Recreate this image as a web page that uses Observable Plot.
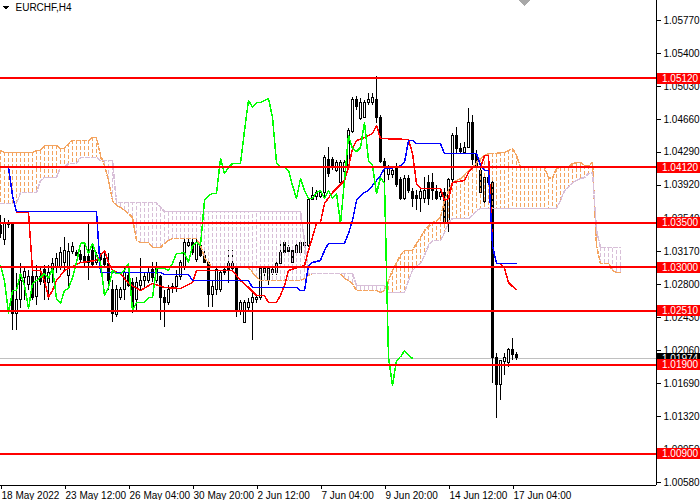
<!DOCTYPE html>
<html><head><meta charset="utf-8">
<script src="https://cdn.jsdelivr.net/npm/d3@7"></script>
<script src="https://cdn.jsdelivr.net/npm/@observablehq/plot@0.6"></script>
<style>
html,body{margin:0;padding:0;background:#fff;}
#chart{width:700px;height:500px;overflow:hidden;}
svg{display:block;}
</style></head><body><div id="chart"></div>
<script>
const symbolTitle = "EURCHF,H4";

const opens = [
1.03467,1.03299,1.03490,1.03490,1.02478,1.02625,1.02872,1.02804,1.02883,1.02669,
1.02883,1.02962,1.02816,1.02962,1.02995,1.02995,1.03051,1.02905,1.03164,1.03153,
1.03141,1.03108,1.03108,1.03186,1.03051,1.03130,1.03096,1.03040,1.02737,1.02456,
1.02658,1.02737,1.02905,1.02816,1.02625,1.02793,1.02849,1.02849,1.02962,1.02849,
1.02883,1.02647,1.02591,1.02771,1.02771,1.02883,1.02995,1.03242,1.03276,1.03074,
1.03242,1.03130,1.03051,1.02681,1.02737,1.02737,1.02962,1.03040,1.02984,1.02984,
1.02512,1.02377,1.02535,1.02602,1.02625,1.02647,1.02928,1.02849,1.02939,1.02928,
1.03040,1.03265,1.03209,1.03186,1.03153,1.03153,1.03265,1.03242,1.03748,1.03782,
1.03782,1.03827,1.04198,1.04198,1.04085,1.03950,1.04063,1.04119,1.04512,1.04872,
1.04669,1.04680,1.04849,1.04849,1.04872,1.04680,1.04175,1.04029,1.04029,1.04119,
1.03973,1.03770,1.03995,1.03838,1.03804,1.03770,1.03770,1.03939,1.03939,1.03838,
1.03782,1.03827,1.03490,1.03973,1.04478,1.04332,1.04287,1.04343,1.04624,1.04254,
1.04085,1.03726,1.04006,1.03939,1.01984,1.01670,1.01928,1.01917,1.02063,1.02007];
const highs = [
1.03579,1.03546,1.03523,1.03501,1.02928,1.03040,1.02995,1.02962,1.02995,1.03018,
1.02984,1.03018,1.03018,1.03096,1.03153,1.03220,1.03332,1.03265,1.03276,1.03186,
1.03186,1.03265,1.03490,1.03265,1.03164,1.03153,1.03153,1.03153,1.02849,1.02793,
1.02771,1.02984,1.02962,1.02872,1.02883,1.03096,1.02928,1.02984,1.03051,1.03051,
1.02905,1.02737,1.02793,1.02816,1.02962,1.03074,1.03332,1.03332,1.03355,1.03321,
1.03321,1.03220,1.03096,1.02849,1.03040,1.02962,1.03018,1.03186,1.03186,1.03018,
1.02625,1.02625,1.02647,1.02703,1.02681,1.03006,1.03006,1.03006,1.03018,1.03074,
1.03265,1.03276,1.03242,1.03220,1.03265,1.03299,1.03299,1.03782,1.03894,1.03860,
1.03860,1.04254,1.04343,1.04231,1.04198,1.04198,1.04198,1.04557,1.04905,1.04916,
1.04894,1.04872,1.04950,1.04950,1.05141,1.04703,1.04220,1.04141,1.04108,1.04164,
1.04006,1.04029,1.04029,1.03883,1.03860,1.03894,1.04006,1.04029,1.04051,1.03917,
1.03860,1.03883,1.03995,1.04501,1.04568,1.04388,1.04400,1.04782,1.04703,1.04310,
1.04119,1.04029,1.04029,1.03973,1.02029,1.01950,1.02029,1.02085,1.02198,1.02040];
const lows = [
1.03321,1.03242,1.03434,1.02287,1.02287,1.02535,1.02625,1.02737,1.02625,1.02568,
1.02793,1.02625,1.02625,1.02816,1.02928,1.02962,1.02962,1.02771,1.03141,1.03119,
1.03051,1.02995,1.02849,1.02995,1.03018,1.03040,1.02995,1.02737,1.02377,1.02434,
1.02625,1.02625,1.02771,1.02478,1.02490,1.02737,1.02771,1.02816,1.02827,1.02816,
1.02400,1.02321,1.02568,1.02703,1.02714,1.02849,1.02962,1.03220,1.03130,1.03051,
1.03108,1.03040,1.02546,1.02546,1.02681,1.02714,1.02905,1.02816,1.02939,1.02434,
1.02456,1.02366,1.02512,1.02175,1.02591,1.02625,1.02894,1.02793,1.02905,1.02905,
1.02995,1.03130,1.03130,1.03040,1.03130,1.03130,1.03220,1.03220,1.03748,1.03748,
1.03770,1.03782,1.04006,1.04085,1.04063,1.03917,1.04029,1.04108,1.04501,1.04759,
1.04647,1.04669,1.04815,1.04815,1.04613,1.04164,1.03726,1.03973,1.03995,1.03894,
1.03748,1.03748,1.03827,1.03669,1.03636,1.03613,1.03714,1.03692,1.03748,1.03748,
1.03748,1.03434,1.03388,1.03950,1.04276,1.04276,1.04276,1.04332,1.04141,1.04119,
1.03827,1.03714,1.03917,1.01692,1.01299,1.01501,1.01782,1.01872,1.01950,1.01950];
const closes = [
1.03377,1.03490,1.03478,1.02478,1.02625,1.02849,1.02950,1.02894,1.02658,1.02894,
1.02827,1.02816,1.02928,1.03040,1.03096,1.03153,1.03186,1.03164,1.03231,1.03130,
1.03074,1.03051,1.03051,1.03018,1.03130,1.03074,1.03018,1.02849,1.02478,1.02737,
1.02737,1.02928,1.02793,1.02535,1.02816,1.02849,1.02883,1.02928,1.02872,1.02984,
1.02647,1.02591,1.02737,1.02759,1.02883,1.03051,1.03265,1.03276,1.03153,1.03265,
1.03130,1.03051,1.02681,1.02771,1.02962,1.02928,1.02928,1.02962,1.03040,1.02512,
1.02602,1.02602,1.02602,1.02658,1.02658,1.02984,1.02984,1.02984,1.02962,1.03040,
1.03153,1.03153,1.03164,1.03051,1.03242,1.03276,1.03242,1.03748,1.03804,1.03827,
1.03827,1.04220,1.04051,1.04119,1.04164,1.04164,1.04164,1.04534,1.04872,1.04793,
1.04849,1.04849,1.04872,1.04894,1.04680,1.04175,1.04119,1.04119,1.04085,1.03917,
1.03770,1.03995,1.03860,1.03770,1.03770,1.03838,1.03860,1.03770,1.03860,1.03770,
1.03827,1.03490,1.03973,1.04478,1.04332,1.04298,1.04343,1.04624,1.04198,1.04141,
1.03827,1.04006,1.03939,1.01984,1.01670,1.01950,1.01984,1.02063,1.02007,1.01974];

// Ichimoku Senkou spans, one value per bar (26 bars beyond the last candle)
const spanA = [
1.04310,1.04287,1.04287,1.04287,1.04287,1.04287,1.04287,1.04287,1.04287,1.04310,
1.04310,1.04366,1.04366,1.04366,1.04366,1.04332,1.04332,1.04388,1.04422,1.04422,
1.04422,1.04422,1.04422,1.04456,1.04456,1.04254,1.04141,1.03973,1.03748,1.03692,
1.03669,1.03636,1.03602,1.03557,1.03299,1.03276,1.03276,1.03276,1.03220,1.03220,
1.03220,1.03265,1.03299,1.03321,1.03321,1.03321,1.03321,1.03321,1.03321,1.03321,
1.03242,1.03108,1.03051,1.02995,1.02995,1.02995,1.02995,1.02995,1.02995,1.02995,
1.02995,1.02995,1.02995,1.02939,1.02883,1.02849,1.02849,1.02849,1.02849,1.02849,
1.02849,1.02849,1.02849,1.02849,1.02849,1.02849,1.02872,1.02905,1.02928,1.02928,
1.02928,1.02928,1.02928,1.02928,1.02928,1.02928,1.02872,1.02849,1.02816,1.02737,
1.02737,1.02737,1.02737,1.02737,1.02737,1.02714,1.02737,1.02849,1.02962,1.03051,
1.03130,1.03186,1.03186,1.03186,1.03265,1.03332,1.03411,1.03456,1.03501,1.03523,
1.03557,1.03748,1.03860,1.03950,1.03973,1.03995,1.04029,1.04085,1.04119,1.04175,
1.04220,1.04254,1.04276,1.04276,1.04276,1.04287,1.04287,1.04310,1.04332,1.04254,
1.04119,1.04119,1.04119,1.04119,1.04119,1.04119,1.04119,1.04006,1.03995,1.04108,
1.04119,1.04119,1.04119,1.04164,1.04175,1.04175,1.04141,1.04141,1.04175,1.03242,
1.03040,1.03040,1.03040,1.02962,1.02939,1.02939];
const spanB = [
1.03714,1.03714,1.03714,1.03714,1.03714,1.03838,1.03838,1.03838,1.03838,1.03838,
1.03973,1.04006,1.04006,1.04006,1.04006,1.04119,1.04119,1.04164,1.04164,1.04164,
1.04231,1.04231,1.04231,1.04231,1.04231,1.04198,1.04198,1.04198,1.04198,1.03726,
1.03726,1.03726,1.03726,1.03726,1.03726,1.03726,1.03726,1.03726,1.03726,1.03726,
1.03669,1.03624,1.03624,1.03624,1.03624,1.03624,1.03624,1.03624,1.03624,1.03624,
1.03624,1.03624,1.03624,1.03624,1.03624,1.03624,1.03624,1.03624,1.03624,1.03624,
1.03624,1.03624,1.03624,1.03624,1.03624,1.03624,1.03624,1.03624,1.03624,1.03624,
1.03624,1.03624,1.03624,1.03624,1.03624,1.03624,1.03299,1.02928,1.02928,1.02928,
1.02928,1.02928,1.02928,1.02928,1.02928,1.02928,1.02928,1.02928,1.02928,1.02793,
1.02793,1.02793,1.02793,1.02793,1.02793,1.02793,1.02793,1.02714,1.02714,1.02714,
1.02714,1.02714,1.02849,1.02962,1.03018,1.03040,1.03130,1.03242,1.03299,1.03299,
1.03299,1.03388,1.03501,1.03546,1.03546,1.03546,1.03546,1.03546,1.03579,1.03636,
1.03658,1.03658,1.03658,1.03658,1.03658,1.03658,1.03658,1.03658,1.03658,1.03658,
1.03658,1.03658,1.03658,1.03658,1.03658,1.03658,1.03658,1.03658,1.03658,1.03658,
1.03748,1.03860,1.03894,1.03950,1.03973,1.03995,1.04006,1.04051,1.04063,1.03411,
1.03220,1.03220,1.03220,1.03220,1.03220,1.03220];

const tenkanBars = [4,7,8,10,11,12,13,14,16,20,24,25,26,27,28,30,32,35,38,41,45,48,49,58,60,62,64,66,67,69,70,71,72,76,77,79,80,81,83,84,86,87,88,89,91,92,93,94,95,102,103,104,105,110,111,112,113,116,117,118,120,121,122,123,124,125,126,127,128,129];
const tenkanValues = [1.03613,1.03613,1.02962,1.02962,1.02849,1.02658,1.02737,1.02849,1.02962,1.03051,1.03074,1.03130,1.03186,1.03051,1.02962,1.02928,1.02816,1.02737,1.02816,1.02771,1.02759,1.02827,1.02962,1.02962,1.02849,1.02771,1.02681,1.02681,1.02602,1.02602,1.02681,1.02793,1.02962,1.03018,1.03186,1.03490,1.03501,1.03714,1.03838,1.03883,1.03973,1.04119,1.04332,1.04422,1.04456,1.04478,1.04501,1.04591,1.04445,1.04433,1.04276,1.03939,1.03883,1.03883,1.03748,1.03770,1.03950,1.03973,1.04063,1.04119,1.04119,1.04254,1.04254,1.03242,1.03040,1.03040,1.02984,1.02827,1.02782,1.02748];
const kijunBars = [0,2,3,4,24,25,40,41,47,48,62,63,74,75,76,77,78,80,81,82,86,87,88,89,90,91,92,93,94,95,96,99,100,101,102,103,104,110,111,119,120,121,122,123,124,129];
const kijunValues = [1.04119,1.04119,1.03804,1.03624,1.03624,1.02939,1.02939,1.02917,1.02917,1.02849,1.02849,1.02771,1.02771,1.02737,1.02737,1.03018,1.03051,1.03074,1.03186,1.03265,1.03265,1.03377,1.03523,1.03748,1.03804,1.03838,1.03860,1.03917,1.03973,1.04029,1.04108,1.04119,1.04141,1.04175,1.04422,1.04422,1.04388,1.04388,1.04276,1.04276,1.04141,1.04085,1.04085,1.03242,1.03040,1.03040];
const chikouShift = 26;

const levels = [1.0512, 1.0412, 1.0350, 1.0300, 1.0251, 1.0190, 1.0090];
const bid = 1.01974;
const yTicks = [1.0577,1.0540,1.0503,1.0466,1.0429,1.0392,1.0354,1.0317,1.0280,1.0243,1.0206,1.0169,1.0132,1.0095,1.0058];
const xTickBars = [0,16,32,48,64,80,96,112,128];
const xTickLabels = ["18 May 2022","23 May 12:00","26 May 04:00","30 May 20:00","2 Jun 12:00","7 Jun 04:00","9 Jun 20:00","14 Jun 12:00","17 Jun 04:00"];
const yDomain = [1.00546, 1.05995];
const xDomain = [0, 164];

const candles = opens.map((o, i) => ({i, o, h: highs[i], l: lows[i], c: closes[i]}));
const up = candles.filter(d => d.c >= d.o);
const down = candles.filter(d => d.c < d.o);
const cloud = spanA.map((a, i) => ({i, a, b: spanB[i]}));
const bull = cloud.filter(d => d.a >= d.b);
const bear = cloud.filter(d => d.a < d.b);
const tenkan = tenkanBars.map((i, k) => ({i, v: tenkanValues[k]}));
const kijun = kijunBars.map((i, k) => ({i, v: kijunValues[k]}));
const chikou = closes.slice(chikouShift).map((v, k) => ({i: k, v}));

const fmt = d3.format(".5f");
const FONT = "'Liberation Sans', Arial, sans-serif";

const plot = Plot.plot({
  width: 700, height: 500,
  marginLeft: 0, marginRight: 44, marginTop: 0, marginBottom: 15,
  style: {fontFamily: FONT, fontSize: "10px", color: "#000", background: "#fff", overflow: "visible"},
  x: {type: "linear", domain: xDomain},
  y: {type: "linear", domain: yDomain},
  marks: [
    Plot.ruleY([bid], {stroke: "#c0c0c0"}),
    Plot.ruleX(candles, {x: "i", y1: "l", y2: "h", stroke: "#000"}),
    Plot.rect(down, {x1: d => d.i - 0.25, x2: d => d.i + 0.25, y1: "o", y2: "c", fill: "#000", stroke: "#000"}),
    Plot.rect(up, {x1: d => d.i - 0.25, x2: d => d.i + 0.25, y1: "o", y2: "c", fill: "#fff", stroke: "#000"}),
    Plot.ruleX(bull, {x: "i", y1: "a", y2: "b", stroke: "#f4a460", strokeDasharray: "4,2"}),
    Plot.ruleX(bear, {x: "i", y1: "a", y2: "b", stroke: "#d8bfd8", strokeDasharray: "4,2"}),
    Plot.line(cloud, {x: "i", y: "a", stroke: "#f4a460", strokeDasharray: "4,2"}),
    Plot.line(cloud, {x: "i", y: "b", stroke: "#d8bfd8", strokeDasharray: "4,2"}),
    Plot.line(tenkan, {x: "i", y: "v", stroke: "#ff0000"}),
    Plot.line(kijun, {x: "i", y: "v", stroke: "#0000ff"}),
    Plot.line(chikou, {x: "i", y: "v", stroke: "#00ff00"}),
    Plot.ruleY(levels, {stroke: "#ff0000", strokeWidth: 2}),
    Plot.ruleX([xDomain[1]], {stroke: "#000"}),
    Plot.ruleY([yDomain[0]], {stroke: "#000"}),
    Plot.axisY(yTicks, {anchor: "right", tickFormat: fmt, tickSize: 4, tickPadding: 3, label: null, fontSize: 10}),
    Plot.axisX(xTickBars, {anchor: "bottom", tickFormat: d => xTickLabels[xTickBars.indexOf(d)], tickSize: 4, tickPadding: 2, textAnchor: "start", dx: 1, label: null, fontSize: 10}),
    Plot.text([symbolTitle], {frameAnchor: "top-left", dx: 15, dy: 3, lineAnchor: "top", textAnchor: "start", fontSize: 10, fill: "#000"})
  ]
});

document.getElementById("chart").appendChild(plot);
const svg = d3.select(plot);
svg.attr("shape-rendering", "crispEdges");
const ys = plot.scale("y"), xs = plot.scale("x");
const xRight = xs.apply(xDomain[1]);
const g = svg.append("g").attr("font-family", FONT).attr("font-size", 10).attr("text-anchor", "start");
function tag(v, bg) {
  const y = Math.round(ys.apply(v));
  g.append("rect").attr("x", xRight + 1).attr("y", y - 5).attr("width", 700 - xRight - 1).attr("height", 11).attr("fill", bg);
  g.append("text").attr("x", xRight + 6).attr("y", y).attr("dy", "0.36em").attr("text-anchor", "start").attr("fill", "#fff").text(fmt(v));
}
tag(bid, "#000");
levels.forEach(v => tag(v, "#ff0000"));
// symbol menu marker and chart-shift marker
g.append("path").attr("d", "M3,6L9,6L6,10Z").attr("fill", "#000");
const sx = xs.apply(candles.length + 1.2);
g.append("path").attr("d", `M${sx - 6},0L${sx + 6},0L${sx},6Z`).attr("fill", "#a8a8a8");
</script></body></html>
